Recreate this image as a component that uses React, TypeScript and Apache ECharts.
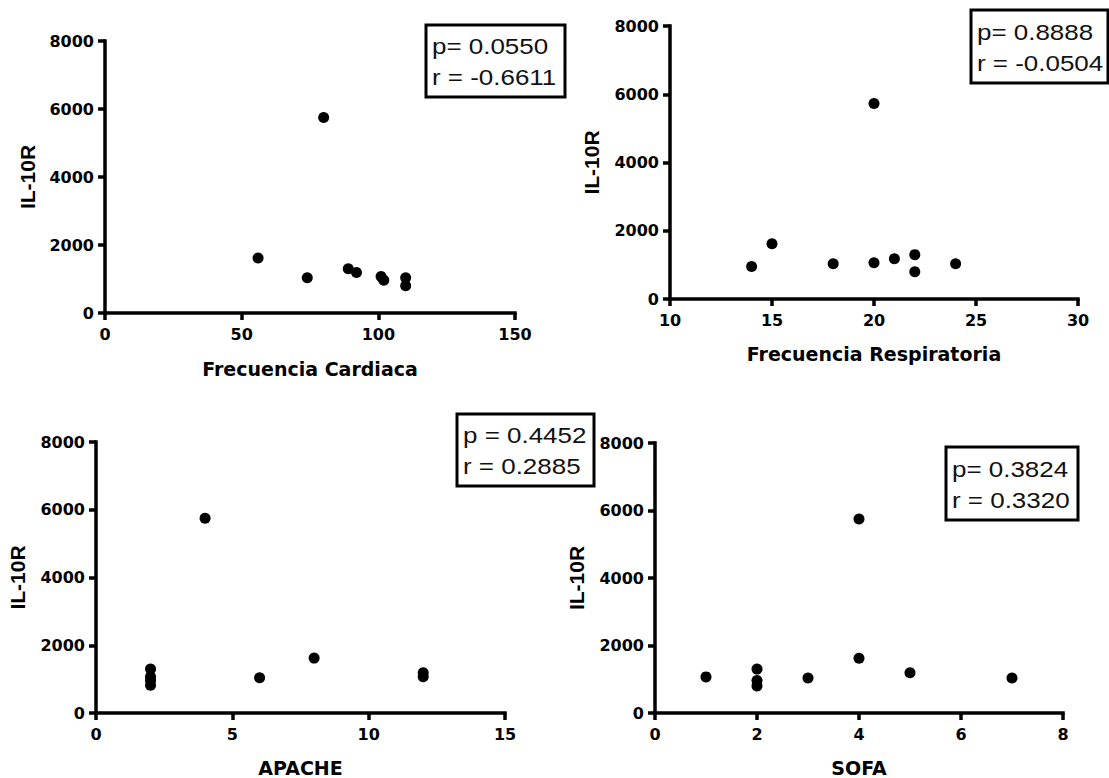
import React, { useEffect, useRef } from "react";
import * as echarts from "echarts";

// ---- data ----
const fcX = [56, 74, 80, 89, 92, 101, 102, 110, 110];
const fcY = [1620, 1040, 5750, 1300, 1190, 1070, 960, 1040, 800];

const frX = [14, 15, 18, 20, 20, 21, 22, 22, 24];
const frY = [950, 1620, 1030, 5730, 1060, 1180, 1300, 800, 1030];

const apX = [2, 2, 2, 2, 4, 6, 8, 12, 12];
const apY = [1300, 1070, 960, 820, 5750, 1040, 1620, 1190, 1070];

const soX = [1, 2, 2, 2, 3, 4, 4, 5, 7];
const soY = [1070, 1300, 960, 800, 1040, 5750, 1620, 1190, 1040];

const xNames = ["Frecuencia Cardiaca", "Frecuencia Respiratoria", "APACHE", "SOFA"];
const yName = "IL-10R";
const xMin = [0, 10, 0, 0];
const xMax = [150, 30, 15, 8];
const xStep = [50, 5, 5, 2];
const yMin = 0;
const yMax = 8000;
const yStep = 2000;

const statLines = [
  "p= 0.0550\nr = -0.6611",
  "p= 0.8888\nr = -0.0504",
  "p = 0.4452\nr = 0.2885",
  "p= 0.3824\nr = 0.3320",
];

const panelX = [fcX, frX, apX, soX];
const panelY = [fcY, frY, apY, soY];

// ---- layout ----
const grids = [
  { left: 105, top: 41, width: 410, height: 272 },
  { left: 670, top: 26, width: 408, height: 273 },
  { left: 96, top: 442, width: 409, height: 272 },
  { left: 655, top: 443, width: 408, height: 271 },
];
const xNameGaps = [46, 45, 45, 45];
const yNameGaps = [67, 68, 68, 68];
const boxes = [
  { x: 426, y: 25, w: 139, h: 72 },
  { x: 971, y: 10, w: 137, h: 73 },
  { x: 457, y: 414, w: 137, h: 72 },
  { x: 946, y: 447, w: 132, h: 73 },
];

const FONT = "Liberation Sans, Arial, Helvetica, sans-serif";
const WIDEFONT = "DejaVu Sans, Liberation Sans, sans-serif";

export default function App() {
  const ref = useRef<HTMLDivElement>(null);
  useEffect(() => {
    if (!ref.current) return;
    const chart = echarts.init(ref.current, undefined, { renderer: "svg" });
    const axisLine = { show: true, onZero: false, lineStyle: { color: "#000", width: 3.5, cap: "square" } };
    const axisTick = { show: true, inside: false, length: 7, lineStyle: { color: "#000", width: 3.5 } };
    const labelBase = {
      color: "#000",
      fontWeight: "bold",
      fontSize: 16,
      fontFamily: WIDEFONT,
      formatter: (v: number) => String(v),
    };
    const xAxis = grids.map((_, i) => ({
      type: "value",
      gridIndex: i,
      min: xMin[i],
      max: xMax[i],
      interval: xStep[i],
      axisLine,
      axisTick,
      splitLine: { show: false },
      axisLabel: { ...labelBase, margin: 13 },
      name: xNames[i],
      nameLocation: "middle",
      nameGap: xNameGaps[i],
      nameTextStyle: {
        color: "#000",
        fontWeight: "bold",
        fontSize: 19,
        fontFamily: WIDEFONT,
      },
    }));
    const yAxis = grids.map((_, i) => ({
      type: "value",
      gridIndex: i,
      min: yMin,
      max: yMax,
      interval: yStep,
      axisLine,
      axisTick,
      splitLine: { show: false },
      axisLabel: { ...labelBase, margin: 11 },
      name: yName,
      nameLocation: "middle",
      nameGap: yNameGaps[i],
      nameTextStyle: { color: "#000", fontWeight: "bold", fontSize: 21, fontFamily: FONT },
    }));
    const series = grids.map((_, i) => ({
      type: "scatter",
      xAxisIndex: i,
      yAxisIndex: i,
      symbol: "circle",
      symbolSize: 11,
      itemStyle: { color: "#000", opacity: 1 },
      data: panelX[i].map((x, k) => [x, panelY[i][k]]),
    }));
    const graphic: any[] = [];
    boxes.forEach((b, i) => {
      graphic.push({
        type: "rect",
        shape: { x: b.x, y: b.y, width: b.w, height: b.h },
        style: { fill: "#fff", stroke: "#000", lineWidth: 3 },
        z: 10,
      });
      graphic.push({
        type: "text",
        x: b.x + 6,
        y: b.y + b.h / 2 + 1,
        scaleX: 1.18,
        style: {
          text: statLines[i],
          font: `22px ${FONT}`,
          fill: "#111",
          verticalAlign: "middle",
          align: "left",
          lineHeight: 31,
        },
        z: 11,
      });
    });
    chart.setOption({
      animation: false,
      backgroundColor: "#fff",
      grid: grids.map((g) => ({ ...g, containLabel: false })),
      xAxis,
      yAxis,
      series,
      graphic,
    });
    return () => chart.dispose();
  }, []);
  return (
    <div
      ref={ref}
      style={{ position: "absolute", left: 0, top: 0, width: 1109, height: 778 }}
    />
  );
}
